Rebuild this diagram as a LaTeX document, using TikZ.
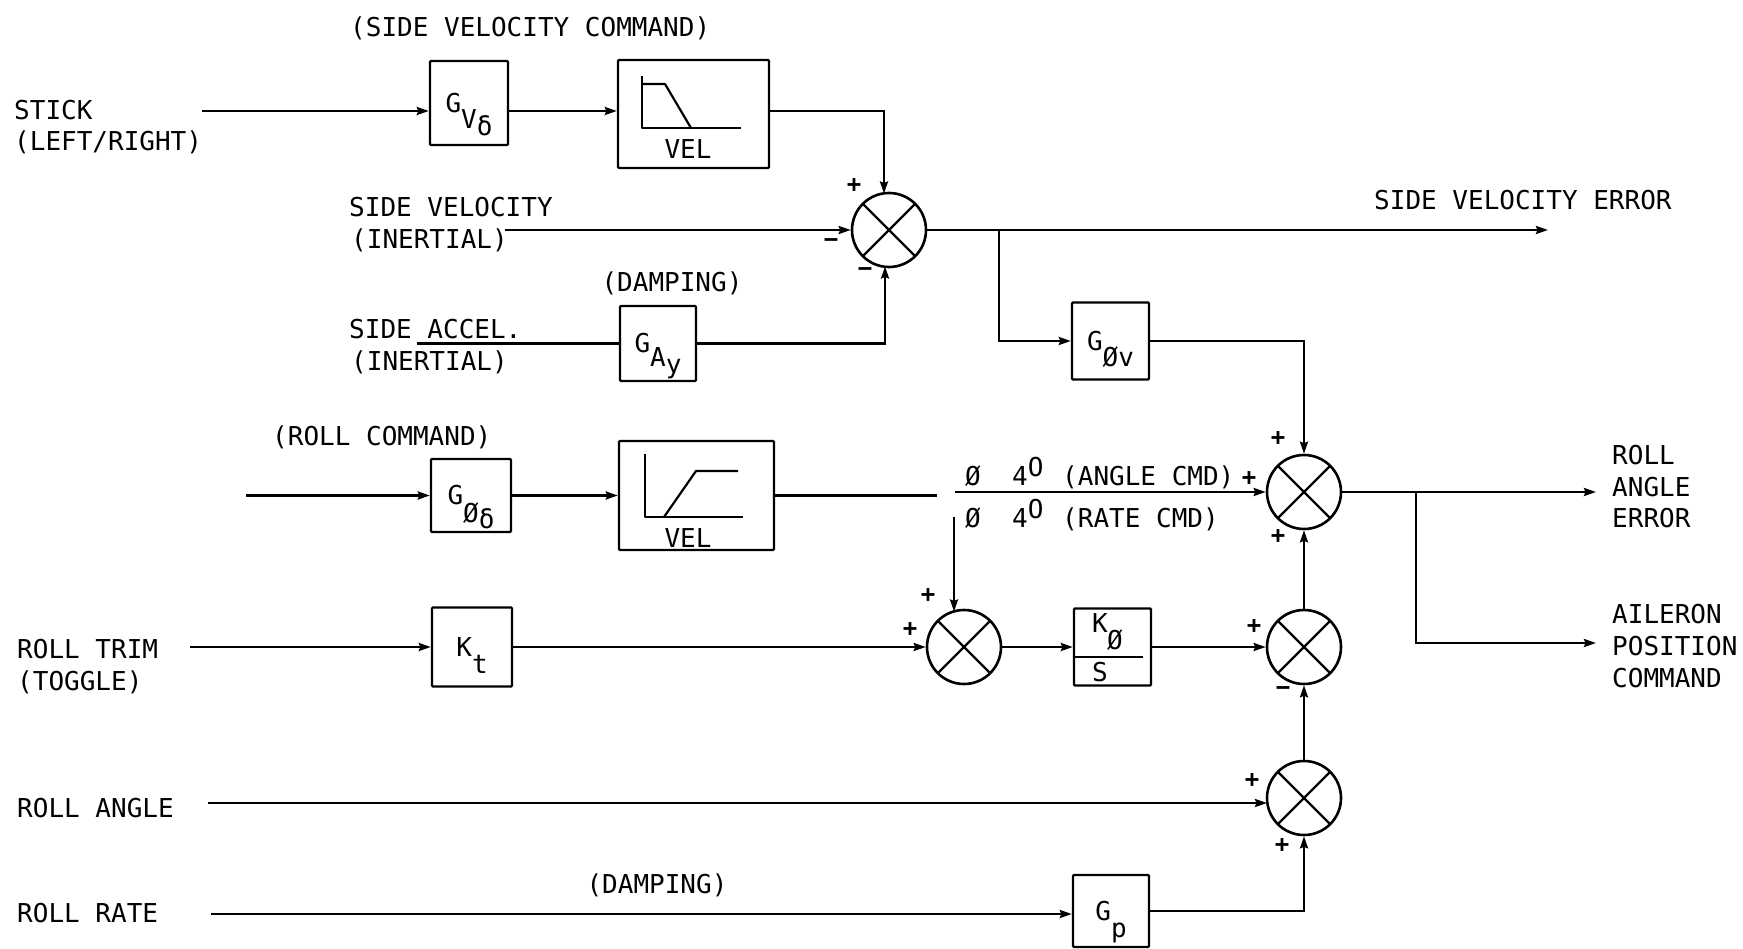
\documentclass[tikz,border=0pt]{standalone}
\usepackage{fontspec}
\setmainfont{DejaVu Sans Mono}
\usetikzlibrary{arrows.meta}
\newcommand{\subdrop}[2]{\smash{\raisebox{-#1pt}{#2}}}
\tikzset{
  x=1pt,y=-1pt,
  lbl/.style={inner sep=0pt,text height=19pt,text depth=0pt,font=\fontsize{26}{26}\selectfont},
  sign/.style={inner sep=0pt,font=\fontsize{24}{24}\selectfont\bfseries},
  blk/.style={draw,line width=2.4pt,rounded corners=1pt,inner sep=0pt,font=\fontsize{26}{26}\selectfont},
  sumj/.style={draw,circle,line width=2.6pt,minimum size=74pt,inner sep=0pt,
    path picture={\draw[line width=2.2pt] (path picture bounding box.center) +(45:38pt) -- +(225:38pt)
      (path picture bounding box.center) +(135:38pt) -- +(315:38pt);}},
  wire/.style={line width=2.4pt},
  arr/.style={line width=2.4pt,-{Stealth[length=12pt,width=8pt,inset=1.5pt]}},
  curve/.style={line width=2.2pt,line join=round}
}
\begin{document}
\begin{tikzpicture}
\useasboundingbox (0,0) rectangle (1743,949);
% blocks
\node[blk,minimum width=78pt,minimum height=84pt] (gvs) at (469,103) {G\subdrop{16}{V\subdrop{7}{δ}}};
\node[blk,minimum width=151pt,minimum height=108pt] (vel1) at (693.5,114) {};
\node[blk,minimum width=76pt,minimum height=75pt] (gay) at (658,343.5) {G\subdrop{14}{A\subdrop{7}{y}}};
\node[blk,minimum width=77pt,minimum height=77pt] (gpv) at (1110.5,341) {G\subdrop{16}{Øv}};
\node[blk,minimum width=80pt,minimum height=73pt] (gps) at (471,495.5) {G\subdrop{18}{Ø\subdrop{6}{δ}}};
\node[blk,minimum width=155pt,minimum height=109pt] (vel2) at (696.5,495.5) {};
\node[blk,minimum width=80pt,minimum height=79pt] (kt) at (472,647) {K\subdrop{17}{t}};
\node[blk,minimum width=77pt,minimum height=77pt] (ks) at (1112.5,647) {};
\node[blk,minimum width=76pt,minimum height=72pt] (gp) at (1111,911) {G\subdrop{17}{p}};
% summing junctions
\node[sumj] (s1) at (889,230) {};
\node[sumj] (st) at (1304,492) {};
\node[sumj] (sl) at (964,647) {};
\node[sumj] (sm) at (1304,647) {};
\node[sumj] (sb) at (1304,798) {};
% free ends
\coordinate (stick) at (202,111);
\coordinate (s1t) at (884,193.5);
\coordinate (s1b) at (885,266.5);
\coordinate (sv) at (505,230);
\coordinate (sa) at (417,343.5);
\coordinate (sve) at (1548,230);
\coordinate (b1) at (999,230);
\coordinate (rc) at (246,495.5);
\coordinate (cut1) at (937,495.5);
\coordinate (cut2) at (955,492);
\coordinate (rcmd) at (954,517);
\coordinate (slt) at (954,611.5);
\coordinate (rt) at (190,647);
\coordinate (rae) at (1596,492);
\coordinate (b2) at (1416,492);
\coordinate (apc) at (1596,643);
\coordinate (ra) at (208,803);
\coordinate (raend) at (1267,803);
\coordinate (rr) at (211,914);
% connectors
\draw[arr] (stick) -- (stick -| gvs.west);
\draw[arr] (stick -| gvs.east) -- (stick -| vel1.west);
\draw[arr] (stick -| vel1.east) -| (s1t);
\draw[arr] (sv) -- (s1.west);
\draw[wire] (sa) -- (gay.west);
\draw[arr] (gay.east) -| (s1b);
\draw[arr] (s1.east) -- (sve);
\draw[arr] (b1) |- (gpv.west);
\draw[arr] (gpv.east) -| (st.north);
\draw[arr] (rc) -- (gps.west);
\draw[arr] (gps.east) -- (vel2.west);
\draw[wire] (vel2.east) -- (cut1);
\draw[arr] (cut2) -- (st.west);
\draw[arr] (rcmd) -- (slt);
\draw[arr] (rt) -- (kt.west);
\draw[arr] (kt.east) -- (sl.west);
\draw[arr] (sl.east) -- (ks.west);
\draw[arr] (ks.east) -- (sm.west);
\draw[arr] (sm.north) -- (st.south);
\draw[arr] (sb.north) -- (sm.south);
\draw[arr] (st.east) -- (rae);
\draw[arr] (b2) |- (apc);
\draw[arr] (ra) -- (raend);
\draw[arr] (rr) -- (rr -| gp.west);
\draw[arr] (gp.east) -| (sb.south);
% limiter curves
\draw[curve] (642,76) -- (642,128) -- (741,128);
\draw[curve] (642,84) -- (665,84) -- (691,128);
\draw[curve] (645,454) -- (645,517) -- (743,517);
\draw[curve] (664,517) -- (696,471) -- (738,471);
\draw[line width=2pt] (1075,657) -- (1143,657);
% texts
\node[lbl,anchor=west] (t1) at (350,27) {(SIDE VELOCITY COMMAND)};
\node[lbl,anchor=west] (t2) at (14,110) {STICK};
\node[lbl,anchor=west] (t3) at (14,141) {(LEFT/RIGHT)};
\node[lbl,anchor=west] (t4) at (349,207) {SIDE VELOCITY};
\node[lbl,anchor=west] (t5) at (351,239) {(INERTIAL)};
\node[lbl] (t6) at (672,282) {(DAMPING)};
\node[lbl,anchor=west] (t7) at (349,329) {SIDE ACCEL.};
\node[lbl,anchor=west] (t8) at (351,361) {(INERTIAL)};
\node[lbl,anchor=west] (t9) at (1374,200) {SIDE VELOCITY ERROR};
\node[lbl,anchor=west] (t10) at (272,436) {(ROLL COMMAND)};
\node[lbl] (t11) at (688,149) {VEL};
\node[lbl] (t12) at (688,538) {VEL};
\node[lbl] (t13) at (973,476) {Ø};
\node[lbl,anchor=west] (t14) at (1012,476) {4\raisebox{9pt}{O}};
\node[lbl,anchor=west] (t15) at (1062,476) {(ANGLE CMD)};
\node[lbl] (t16) at (973,518) {Ø};
\node[lbl,anchor=west] (t17) at (1012,518) {4\raisebox{9pt}{O}};
\node[lbl,anchor=west] (t18) at (1062,518) {(RATE CMD)};
\node[lbl,anchor=west] (t19) at (1612,455) {ROLL};
\node[lbl,anchor=west] (t20) at (1612,487) {ANGLE};
\node[lbl,anchor=west] (t21) at (1612,518) {ERROR};
\node[lbl,anchor=west] (t22) at (1612,614) {AILERON};
\node[lbl,anchor=west] (t23) at (1612,646) {POSITION};
\node[lbl,anchor=west] (t24) at (1612,678) {COMMAND};
\node[lbl,anchor=west] (t25) at (17,649) {ROLL TRIM};
\node[lbl,anchor=west] (t26) at (17,681) {(TOGGLE)};
\node[lbl,anchor=west] (t27) at (17,808) {ROLL ANGLE};
\node[lbl,anchor=west] (t28) at (17,913) {ROLL RATE};
\node[lbl] (t29) at (657,884) {(DAMPING)};
\node[lbl] (t30) at (1100,623) {K};
\node[lbl] (t31) at (1115,640) {Ø};
\node[lbl] (t32) at (1100,672) {S};
% signs
\node[sign] (p1) at (854,186) {+};
\node[sign] (m1) at (831,243) {−};
\node[sign] (m2) at (865,272) {−};
\node[sign] (p2) at (1278,439) {+};
\node[sign] (p3) at (1249,479) {+};
\node[sign] (p4) at (1278,537) {+};
\node[sign] (p5) at (928,596) {+};
\node[sign] (p6) at (910,630) {+};
\node[sign] (p7) at (1254,627) {+};
\node[sign] (m3) at (1283,691) {−};
\node[sign] (p8) at (1252,781) {+};
\node[sign] (p9) at (1282,846) {+};
\end{tikzpicture}
\end{document}
